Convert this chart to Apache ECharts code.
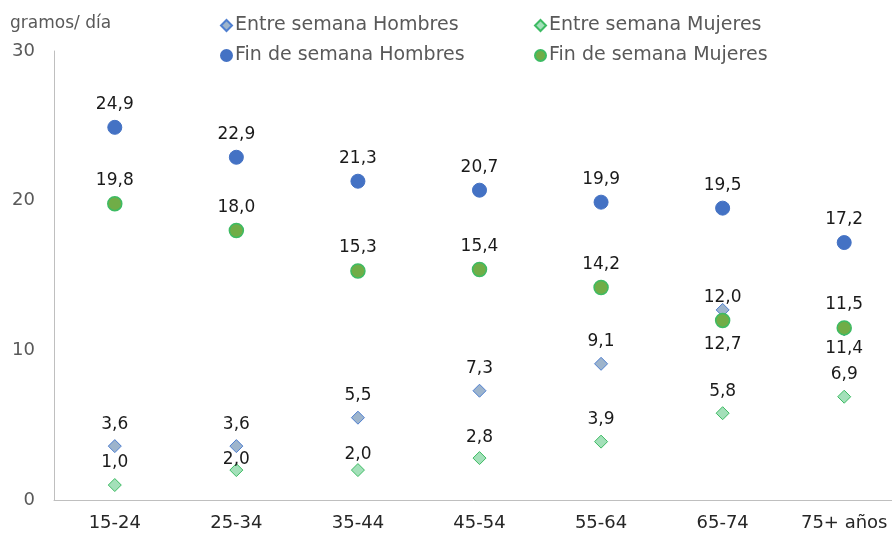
<!DOCTYPE html>
<html>
<head>
<meta charset="utf-8">
<script src="https://cdn.jsdelivr.net/npm/echarts@6/dist/echarts.min.js"></script>
<style>
  html, body { margin: 0; padding: 0; background: #fff; }
  #chart { width: 892px; height: 538px; }
</style>
</head>
<body>
<div id="chart"></div>
<script>
// Age groups on the category axis
const ageGroups = ['15-24', '25-34', '35-44', '45-54', '55-64', '65-74', '75+ años'];

// Grams per day by group
const weekdayMen     = [3.6, 3.6, 5.5, 7.3, 9.1, 12.7, 11.4];
const weekdayWomen   = [1.0, 2.0, 2.0, 2.8, 3.9, 5.8, 6.9];
const weekendMen     = [24.9, 22.9, 21.3, 20.7, 19.9, 19.5, 17.2];
const weekendWomen   = [19.8, 18.0, 15.3, 15.4, 14.2, 12.0, 11.5];

const yTicks = [0, 10, 20, 30];

// Vertical label offsets (px) so overlapping labels stay readable
const weekdayMenLabelDy   = [-22, -22, -22, -22, -22, 35, 19];
const weekdayWomenLabelDy = [-22, -10, -15, -21, -22, -22, -22];

const FONT = 'DejaVu Sans';
const fmt = v => v.toFixed(1).replace('.', ',');

function points(values, dys, dyDefault) {
  return values.map((v, i) => ({
    value: v,
    label: { offset: [0, dys ? dys[i] : dyDefault] }
  }));
}

const labelStyle = {
  show: true,
  position: 'inside',
  color: '#1a1a1a',
  fontFamily: FONT,
  fontSize: 17,
  formatter: p => fmt(p.value)
};

const chart = echarts.init(document.getElementById('chart'), null, { renderer: 'canvas' });

function legendAt(name, icon, left, top) {
  return {
    data: [name],
    left: left,
    top: top,
    icon: icon,
    itemWidth: 11,
    itemHeight: 11,
    itemGap: 0,
    padding: 0,
    itemStyle: { opacity: 1 },
    textStyle: { color: '#595959', fontFamily: FONT, fontSize: 19, padding: [0, 0, 0, -2] }
  };
}

chart.setOption({
  animation: false,
  backgroundColor: '#ffffff',
  legend: [
    legendAt('Entre semana Hombres', 'diamond', 220, 16),
    legendAt('Entre semana Mujeres', 'diamond', 534, 16),
    legendAt('Fin de semana Hombres', 'circle', 220, 46),
    legendAt('Fin de semana Mujeres', 'circle', 534, 46)
  ],
  grid: { left: 54, right: -13, top: 51, bottom: 38, containLabel: false, outerBoundsMode: 'none' },
  xAxis: {
    type: 'category',
    data: ageGroups,
    boundaryGap: true,
    axisLine: { show: true, lineStyle: { color: '#bfbfbf', width: 1 } },
    axisTick: { show: false },
    axisLabel: { color: '#262626', fontFamily: FONT, fontSize: 18, margin: 14 },
    splitLine: { show: false }
  },
  yAxis: {
    type: 'value',
    min: yTicks[0],
    max: yTicks[yTicks.length - 1],
    interval: 10,
    name: 'gramos/ día',
    nameLocation: 'end',
    nameGap: 19,
    nameTextStyle: { color: '#595959', fontFamily: FONT, fontSize: 17, align: 'left', padding: [0, 0, 0, -44] },
    axisLine: { show: true, lineStyle: { color: '#bfbfbf', width: 1 } },
    axisTick: { show: false },
    axisLabel: { color: '#595959', fontFamily: FONT, fontSize: 18, margin: 19, padding: [4, 0, 0, 0] },
    splitLine: { show: false }
  },
  series: [
    {
      name: 'Entre semana Hombres',
      type: 'scatter',
      symbol: 'diamond',
      symbolSize: 13,
      z: 3,
      itemStyle: { color: '#9db4cc', borderColor: '#4f7fd0', borderWidth: 1, opacity: 1 },
      label: labelStyle,
      data: points(weekdayMen, weekdayMenLabelDy)
    },
    {
      name: 'Entre semana Mujeres',
      type: 'scatter',
      symbol: 'diamond',
      symbolSize: 13,
      z: 3,
      itemStyle: { color: '#a3e0b9', borderColor: '#3dbb63', borderWidth: 1, opacity: 1 },
      label: labelStyle,
      data: points(weekdayWomen, weekdayWomenLabelDy)
    },
    {
      name: 'Fin de semana Hombres',
      type: 'scatter',
      symbol: 'circle',
      symbolSize: 14,
      z: 4,
      itemStyle: { color: '#4472c4', borderColor: '#4472c4', borderWidth: 1, opacity: 1 },
      label: labelStyle,
      data: points(weekendMen, null, -23)
    },
    {
      name: 'Fin de semana Mujeres',
      type: 'scatter',
      symbol: 'circle',
      symbolSize: 14,
      z: 4,
      itemStyle: { color: '#70ad47', borderColor: '#3dbb63', borderWidth: 1.5, opacity: 1 },
      label: labelStyle,
      data: points(weekendWomen, null, -23)
    }
  ]
});
</script>
</body>
</html>
